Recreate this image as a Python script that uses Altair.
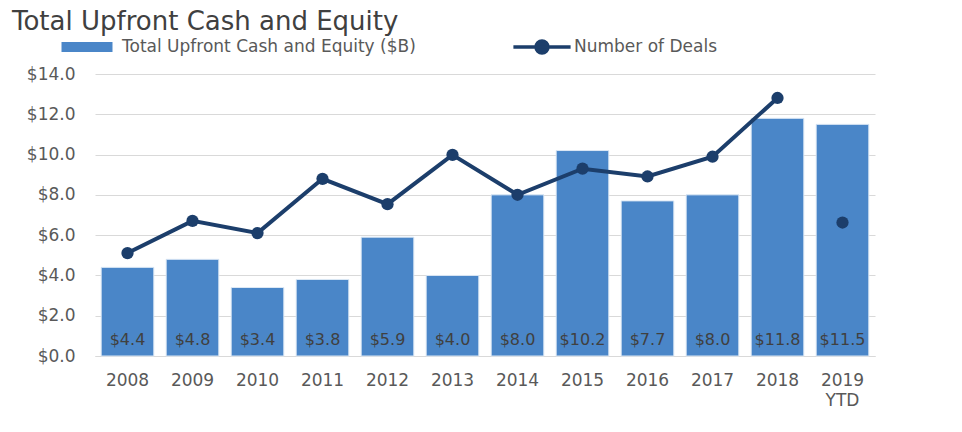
import altair as alt
import pandas as pd

years = ["2008", "2009", "2010", "2011", "2012", "2013", "2014", "2015",
         "2016", "2017", "2018", "2019 YTD"]
cash = [4.4, 4.8, 3.4, 3.8, 5.9, 4.0, 8.0, 10.2, 7.7, 8.0, 11.8, 11.5]
deals = [438, 575, 523, 754, 646, 856, 686, 797, 764, 848, 1098, 568]
line_years = years[:-1]
line_deals = deals[:-1]

BAR = "#4a86c8"
NAVY = "#1c3e6b"
FONT = "DejaVu Sans"
GREY = "#595959"
bar_name = "Total Upfront Cash and Equity ($B)"
line_name = "Number of Deals"

df = pd.DataFrame({"year": years, "cash": cash, "deals": deals,
                   "label": [f"${v:.1f}" for v in cash]})
df_line = pd.DataFrame({"year": line_years, "deals": line_deals})

xenc = alt.X("year:N", sort=years, title=None,
             scale=alt.Scale(paddingInner=0.19, paddingOuter=0.095),
             axis=alt.Axis(labelAngle=0, labelFontSize=17, labelColor=GREY,
                           labelFont=FONT, ticks=False, domainColor="#d9d9d9",
                           labelPadding=16, labelLineHeight=20,
                           labelExpr="datum.value == '2019 YTD' ? ['2019', 'YTD'] : datum.value"))

yleft = alt.Y("cash:Q", title=None,
              scale=alt.Scale(domain=[0, 14]),
              axis=alt.Axis(values=[0, 2, 4, 6, 8, 10, 12, 14], format="$.1f",
                            labelFontSize=17, labelColor=GREY, labelFont=FONT,
                            ticks=False, domain=False, labelPadding=20,
                            gridColor="#d9d9d9"))

bars = alt.Chart(df).mark_bar(color=BAR, stroke="#dce8f5", strokeWidth=1).encode(
    x=xenc, y=yleft,
    fill=alt.Fill("series:N", scale=alt.Scale(domain=[bar_name], range=[BAR]),
                  legend=alt.Legend(title=None, orient="none", legendX=-21, legendY=-40,
                                    symbolType="M-2,-0.4H2V0.4H-2Z", symbolSize=650,
                                    labelFontSize=17, labelColor=GREY, labelFont=FONT,
                                    labelOffset=22, labelLimit=0,
                                    symbolStrokeWidth=0))
).transform_calculate(series=f"'{bar_name}'")

labels = alt.Chart(df).mark_text(fontSize=16, color="#404040", font=FONT,
                                 baseline="middle").encode(
    x=alt.X("year:N", sort=years),
    y=alt.datum(0.8),
    text="label:N")

left = alt.layer(bars, labels)

yright = alt.Y("deals:Q", title=None,
               scale=alt.Scale(domain=[0, 1200]),
               axis=alt.Axis(orient="right", values=[0, 200, 400, 600, 800, 1000, 1200],
                             format="d", labelFontSize=17, labelColor=GREY,
                             labelFont=FONT, ticks=False, domain=False,
                             labelPadding=18, grid=False))

line = alt.Chart(df_line).mark_line(color=NAVY, strokeWidth=4).encode(
    x=alt.X("year:N", sort=years),
    y=yright,
    stroke=alt.Stroke("series:N", scale=alt.Scale(domain=[line_name], range=[NAVY]),
                      legend=alt.Legend(title=None, orient="none", legendX=432, legendY=-42,
                                        symbolType="M-2.2,0H2.2M-0.46,0A0.46,0.46 0 1,0 0.46,0A0.46,0.46 0 1,0 -0.46,0Z",
                                        symbolSize=676, symbolStrokeWidth=3.5,
                                        symbolFillColor=NAVY, labelOffset=17, labelLimit=0,
                                        labelFontSize=17, labelColor=GREY, labelFont=FONT))
).transform_calculate(series=f"'{line_name}'")

points = alt.Chart(df).mark_point(filled=True, color=NAVY, size=150, opacity=1).encode(
    x=alt.X("year:N", sort=years),
    y=alt.Y("deals:Q", axis=None, scale=alt.Scale(domain=[0, 1200])))

right = alt.layer(line, points)

chart = alt.layer(left, right).resolve_scale(y="independent").properties(
    width=780, height=282,
    background="white",
    autosize=alt.AutoSizeParams(type="none"),
    padding={"left": 95, "top": 74, "right": 87, "bottom": 76},
    title=alt.Title("Total Upfront Cash and Equity", anchor="start", fontSize=26,
                    font=FONT, color="#404040", fontWeight="normal",
                    dx=-83, dy=5, offset=2, frame="group")
).configure_view(stroke=None)

chart.save("out.html", embed_options={"renderer": "svg", "actions": False})
